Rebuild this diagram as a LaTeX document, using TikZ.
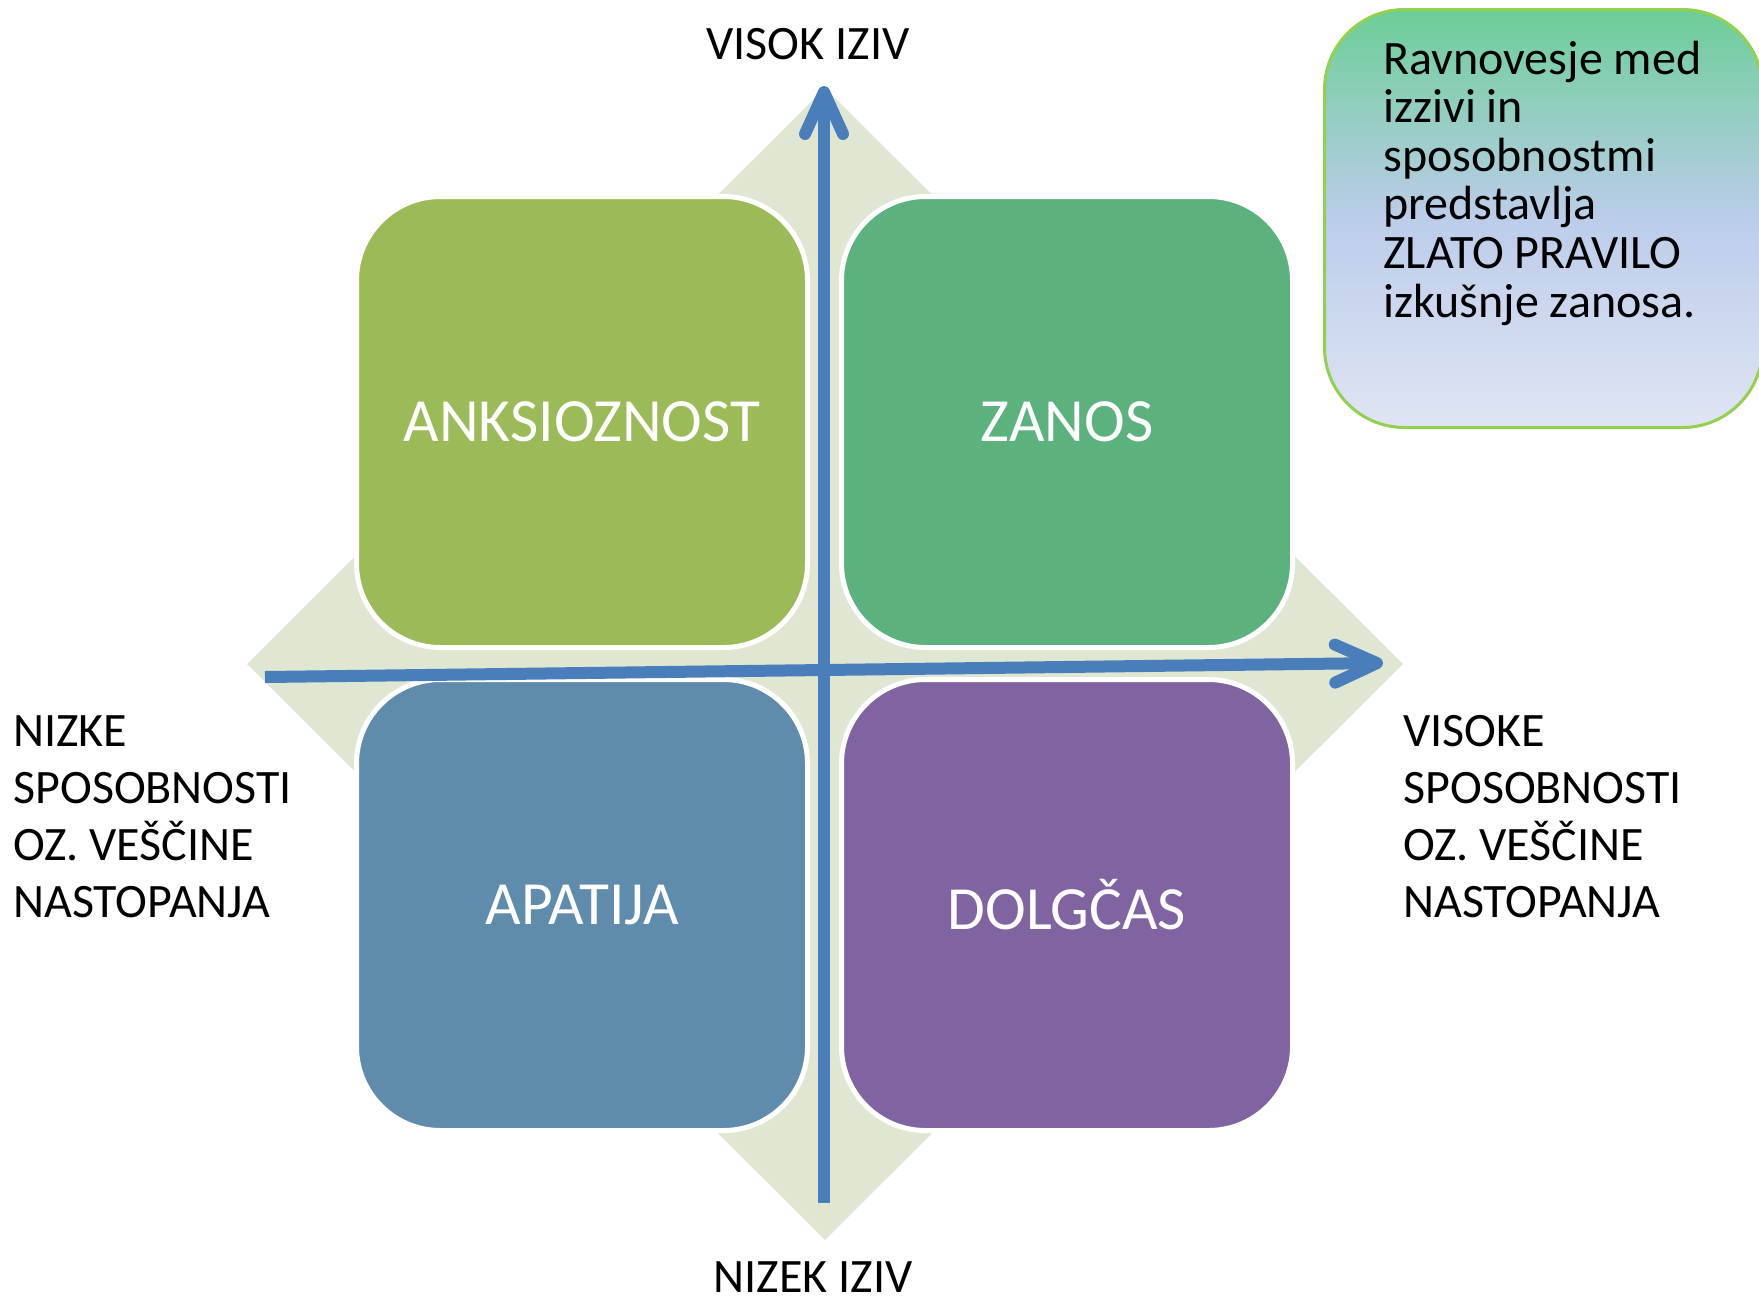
\documentclass[tikz,border=0pt]{standalone}
\usepackage{fontspec}
\setmainfont{Carlito}
\usetikzlibrary{arrows.meta, positioning}

\definecolor{diamondbg}{RGB}{223,231,211}
\definecolor{anxgreen}{RGB}{155,187,89}
\definecolor{flowgreen}{RGB}{92,178,124}
\definecolor{apathyblue}{RGB}{95,140,172}
\definecolor{boredpurple}{RGB}{128,100,162}
\definecolor{axisblue}{RGB}{74,126,187}
\definecolor{notetop}{RGB}{108,206,152}
\definecolor{notemid}{RGB}{188,205,234}
\definecolor{notebot}{RGB}{223,229,243}
\definecolor{noteborder}{RGB}{146,208,80}

\begin{document}
\begin{tikzpicture}[
        x=0.5pt,
        y=-0.5pt,
        every node/.style={font=\fontsize{24pt}{28.5pt}\selectfont},
        quadrant/.style={rounded corners=42pt, draw=white, line width=2.5pt,
            minimum width=225.5pt, minimum height=225.5pt, text=white,
            font=\fontsize{30.7pt}{36pt}\selectfont},
        axisline/.style={axisblue, line width=6pt},
        axislabel/.style={align=left, anchor=base west, inner sep=0pt},
        >={Straight Barb[length=21pt, width=19pt, round]}
    ]
    \useasboundingbox (0,0) rectangle (1759,1302);

    \fill[diamondbg] (825,88) -- (1403,664) -- (825,1240) -- (247,664) -- cycle;

    \node[quadrant, fill=anxgreen] (anx) at (582,422) {ANKSIOZNOST};
    \node[quadrant, fill=flowgreen] (flow) at (1067,422) {ZANOS};
    \node[quadrant, fill=apathyblue] (apathy) at (582,905) {APATIJA};
    \node[quadrant, fill=boredpurple] (bored) at (1067,905) {DOLGČAS};

    \coordinate (lowchal) at (824,1203);
    \coordinate (highchal) at (824,86);
    \coordinate (lowskill) at (265,677);
    \coordinate (highskill) at (1383,663);
    \draw[axisline, ->] (lowchal) -- (highchal);
    \draw[axisline, ->] (lowskill) -- (highskill);

    \node[anchor=base] (high) at (808,59) {VISOK IZIV};
    \node[anchor=base] (low) at (813,1292) {NIZEK IZIV};
    \node[axislabel] (lowlab) at (13,917) {NIZKE\\SPOSOBNOSTI\\OZ. VEŠČINE\\NASTOPANJA};
    \node[axislabel] (highlab) at (1403,917) {VISOKE\\SPOSOBNOSTI\\OZ. VEŠČINE\\NASTOPANJA};

    \node[draw=noteborder, line width=1.5pt, rounded corners=40pt,
        top color=notetop, bottom color=notebot, middle color=notemid,
        minimum width=219pt, minimum height=209pt, anchor=north west] (note) at (1323,8) {};
    \node[axislabel, font=\fontsize{24pt}{24.3pt}\selectfont] (notetext) at (1383,317)
        {Ravnovesje med\\izzivi in\\sposobnostmi\\predstavlja\\ZLATO PRAVILO\\izkušnje zanosa.};
\end{tikzpicture}
\end{document}
